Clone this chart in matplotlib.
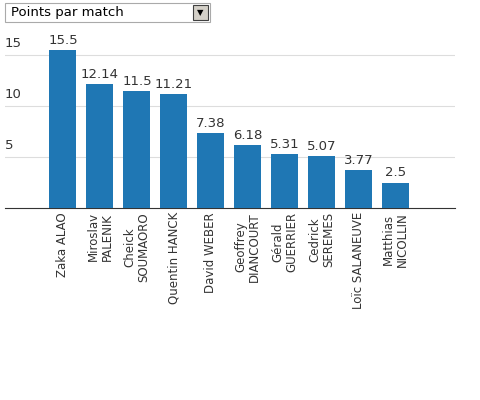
import numpy as np
import matplotlib
matplotlib.use("Agg")
import matplotlib.pyplot as plt
from matplotlib.patches import Rectangle

players = ["Zaka ALAO", "Miroslav\nPALENIK", "Cheick\nSOUMAORO", "Quentin HANCK",
           "David WEBER", "Geoffrey\nDIANCOURT", "Gérald\nGUERRIER", "Cedrick\nSEREMES",
           "Loïc SALANEUVE", "Matthias\nNICOLLIN"]
points = [15.5, 12.14, 11.5, 11.21, 7.38, 6.18, 5.31, 5.07, 3.77, 2.5]
labels = ["15.5", "12.14", "11.5", "11.21", "7.38", "6.18", "5.31", "5.07", "3.77", "2.5"]
yticks = [5, 10, 15]

fig = plt.figure(figsize=(4.8, 4.0), dpi=100)
ax = fig.add_axes([0.01, 0.48, 0.938, 0.42])
x = np.arange(len(players))
ax.bar(x, points, width=0.73, color="#1f77b4", zorder=3)
for xi, v, t in zip(x, points, labels):
    ax.text(xi, v + 0.3, t, ha="center", va="bottom", fontsize=9.5, color="#333333")
ax.set_xlim(-1.57, 10.6)
ax.set_ylim(0, 16.5)
for t in yticks:
    ax.axhline(t, color="#dddddd", lw=0.8, zorder=1)
    ax.text(-1.57, t + 0.5, str(t), ha="left", va="bottom", fontsize=9.5, color="#333333")
for s in ["top", "right", "left"]:
    ax.spines[s].set_visible(False)
ax.spines["bottom"].set_color("#333333")
ax.set_yticks([])
ax.set_xticks(x)
ax.set_xticklabels(players, rotation=90, fontsize=8.5, color="#333333", linespacing=1.1)
ax.tick_params(axis="x", length=0, pad=3)

# dropdown box
fig.patches.append(Rectangle((5/480, 1-22/400), 205/480, 19/400, transform=fig.transFigure,
                             facecolor="white", edgecolor="#aaaaaa", lw=0.8))
fig.patches.append(Rectangle((193/480, 1-20/400), 15/480, 15/400, transform=fig.transFigure,
                             facecolor="#d4d0c8", edgecolor="#404040", lw=0.8))
fig.text(200.5/480, 1-12.5/400, "▼", ha="center", va="center", fontsize=6)
fig.text(11/480, 1-12.5/400, "Points par match", ha="left", va="center", fontsize=9.5)

fig.savefig("out.png", dpi=100)
